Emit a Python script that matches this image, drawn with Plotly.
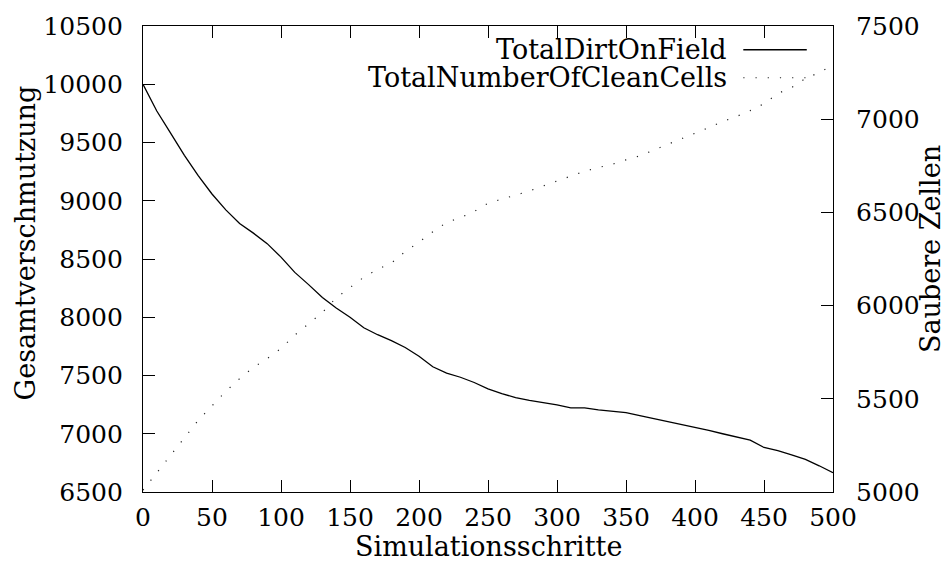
import plotly.graph_objects as go

# ---- data ----
steps = list(range(0, 501, 10))
total_dirt = [10000, 9770, 9580, 9390, 9215, 9058, 8922, 8805, 8722, 8632,
              8516, 8385, 8280, 8170, 8079, 8000, 7910, 7850, 7800, 7740,
              7665, 7575, 7520, 7485, 7440, 7385, 7345, 7310, 7287, 7268,
              7248, 7222, 7222, 7205, 7192, 7182, 7155, 7130, 7105, 7080,
              7057, 7030, 7000, 6975, 6945, 6882, 6855, 6818, 6780, 6725,
              6665]
clean_cells = [5010, 5105, 5200, 5295, 5384, 5462, 5540, 5608, 5668, 5716,
               5770, 5842, 5900, 5963, 6042, 6098, 6152, 6195, 6228, 6290,
               6340, 6396, 6446, 6472, 6505, 6549, 6570, 6590, 6615, 6642,
               6668, 6691, 6721, 6741, 6758, 6782, 6803, 6834, 6864, 6892,
               6925, 6955, 6988, 7014, 7046, 7083, 7138, 7170, 7218, 7250,
               7290]
series_names = ["TotalDirtOnField", "TotalNumberOfCleanCells"]
x_title = "Simulationsschritte"
y_title = "Gesamtverschmutzung"
y2_title = "Saubere Zellen"

FONT = "DejaVu Serif"
FS_TICK = 25
FS_TEXT = 27

fig = go.Figure()
fig.add_trace(go.Scatter(x=steps, y=total_dirt, mode="lines", name=series_names[0],
                         line=dict(color="black", width=1.3), showlegend=False))
fig.add_trace(go.Scatter(x=steps, y=clean_cells, mode="lines", name=series_names[1],
                         yaxis="y2",
                         line=dict(color="#222222", width=1.2, dash="1.2px,11px"),
                         showlegend=False))

axis_common = dict(showgrid=False, zeroline=False, showline=True, linecolor="black",
                   linewidth=1.2, ticks="inside", ticklen=12, tickwidth=1,
                   tickcolor="black", tickformat="d",
                   tickfont=dict(family=FONT, size=FS_TICK, color="black"))

fig.update_layout(
    width=949, height=574,
    margin=dict(l=143, r=116, t=21, b=82),
    paper_bgcolor="white", plot_bgcolor="white",
    font=dict(family=FONT, size=FS_TEXT, color="black"),
    xaxis=dict(range=[0, 500], dtick=50, tick0=0, mirror="ticks",
               ticklabelstandoff=3, **axis_common),
    yaxis=dict(range=[6500, 10500], dtick=500, tick0=6500, mirror=False,
               ticklabelstandoff=14, **axis_common),
    yaxis2=dict(range=[5000, 7500], dtick=500, tick0=5000, overlaying="y",
                side="right", ticklabelstandoff=17, **axis_common),
)

# axis titles as text annotations placed like the reference
fig.add_annotation(text=x_title, xref="paper", yref="paper", x=0.5, y=-0.118,
                   xanchor="center", yanchor="middle", showarrow=False,
                   font=dict(family=FONT, size=FS_TEXT))
fig.add_annotation(text=y_title, xref="paper", yref="paper", x=-0.17, y=0.535,
                   xanchor="center", yanchor="middle", showarrow=False, textangle=-90,
                   font=dict(family=FONT, size=FS_TEXT))
fig.add_annotation(text=y2_title, xref="paper", yref="paper", x=1.141, y=0.522,
                   xanchor="center", yanchor="middle", showarrow=False, textangle=-90,
                   font=dict(family=FONT, size=FS_TEXT))

# key (text right-aligned, sample on the right, gnuplot style)
key_rows = [0.949, 0.889]
key_styles = [dict(color="black", width=1.3),
              dict(color="#222222", width=1.2, dash="1.2px,11px")]
for name, yy, st in zip(series_names, key_rows, key_styles):
    fig.add_annotation(text=name, xref="paper", yref="paper", x=0.849, y=yy,
                       xanchor="right", yanchor="middle", showarrow=False,
                       font=dict(family=FONT, size=FS_TEXT))
    fig.add_shape(type="line", xref="paper", yref="paper", x0=0.870, x1=0.962,
                  y0=yy, y1=yy, line=st)

fig.write_html("out.html")
